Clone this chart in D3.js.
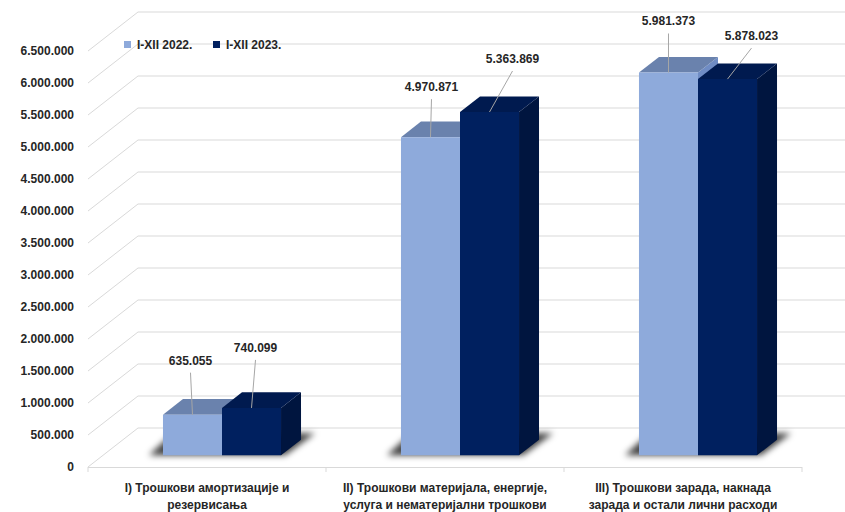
<!doctype html>
<html>
<head>
<meta charset="utf-8">
<style>
  body { margin: 0; background: #fff; }
  text { font-family: "Liberation Sans", Arial, sans-serif; font-weight: bold; fill: #262626; }
</style>
<script src="https://d3js.org/d3.v7.min.js"></script>
</head>
<body>
<svg width="845" height="512"></svg>
<script>
// data
var categories = [
  ["I) Трошкови амортизације и", "резервисања"],
  ["II) Трошкови материјала, енергије,", "услуга и нематеријални трошкови"],
  ["III) Трошкови зарада, накнада", "зарада и остали лични расходи"]
];
var seriesNames = ["I-XII 2022.", "I-XII 2023."];
var values2022 = [635055, 4970871, 5981373];
var values2023 = [740099, 5363869, 5878023];
var yTicks = d3.range(0, 6500001, 500000);

// layout (hand-placed label nudges, dx/dy from bar top centre)
var labelNudge = [
  [[-2, -50], [4, -56]],
  [[1, -46], [23, -49]],
  [[0, -47], [24, -39]]
];
var colors = [
  { front: "#8eaadb", top: "#6a82ad", side: "#6f8cc4" },
  { front: "#00205f", top: "#001a4f", side: "#00153f" }
];

var svg = d3.select("svg");
var fmt = d3.formatLocale({ decimal: ",", thousands: ".", grouping: [3], currency: ["", ""] }).format(",");

var x0 = 88, x1 = 802;
var depthX = 50, depthY = -39;   // full floor depth
var y = d3.scaleLinear().domain([0, 6500000]).range([467, 51]);
var xBand = d3.scaleBand().domain(d3.range(categories.length)).range([x0, x1]).paddingInner(0).paddingOuter(0);
var groupW = xBand.bandwidth() * 0.496;
var xSeries = d3.scaleBand().domain([0, 1]).range([0, groupW]);

function off(f) { return [depthX * f, depthY * f]; }
function pt(x, yy, f) { var o = off(f); return [x + o[0], yy + o[1]]; }
function poly(pts) { return pts.map(function(p) { return p.join(","); }).join(" "); }

var defs = svg.append("defs");
defs.append("filter").attr("id", "shadow").attr("x", "-20%").attr("y", "-50%").attr("width", "140%").attr("height", "200%")
  .append("feGaussianBlur").attr("stdDeviation", 3);

var grid = svg.append("g").attr("stroke", "#d9d9d9").attr("stroke-width", 1).attr("fill", "none");
yTicks.forEach(function(t) {
  var yy = y(t);
  var b = pt(x0, yy, 1);
  // left wall diagonal
  grid.append("line").attr("x1", x0).attr("y1", yy).attr("x2", b[0]).attr("y2", b[1]);
  // back wall line
  grid.append("line").attr("x1", b[0]).attr("y1", b[1]).attr("x2", 860).attr("y2", b[1]);
});
// floor front edge
var floorY = y(0);
svg.append("line").attr("x1", x0).attr("y1", floorY + 0.5).attr("x2", x1).attr("y2", floorY + 0.5)
  .attr("stroke", "#d9d9d9");
xBand.domain().concat([categories.length]).forEach(function(i) {
  var xx = i < categories.length ? xBand(i) : x1;
  svg.append("line").attr("x1", xx).attr("y1", floorY).attr("x2", xx).attr("y2", floorY + 5).attr("stroke", "#d9d9d9");
});

// y axis labels
svg.append("g").selectAll("text").data(yTicks).enter().append("text")
  .attr("x", 74).attr("y", function(d) { return y(d); }).attr("dy", "0.35em")
  .attr("text-anchor", "end").attr("font-size", 12)
  .text(function(d) { return fmt(d); });

// bars
var fFront = 0.3, fBack = 0.7;
var series = [values2022, values2023];
var barsG = svg.append("g");
var shadowG = barsG.append("g").attr("filter", "url(#shadow)");

categories.forEach(function(c, i) {
  var gx = xBand(i) + xBand.bandwidth() / 2 - groupW / 2;
  var left = gx + off(fFront)[0];
  var right = gx + groupW + off(fFront)[0];
  var base = y(0) + off(fFront)[1];
  // floor shadow
  shadowG.append("polygon")
    .attr("points", poly([[left - 14, base], [right + 4, base], [right + 34, base - 22], [left + 10, base - 22]]))
    .attr("fill", "#000").attr("opacity", 0.75);
});

categories.forEach(function(c, i) {
  var gx = xBand(i) + xBand.bandwidth() / 2 - groupW / 2;
  series.forEach(function(vals, s) {
    var bx = gx + xSeries(s), bw = xSeries.bandwidth();
    var yTop = y(vals[i]), yBot = y(0);
    var col = colors[s];
    var fl = pt(bx, yBot, fFront), fr = pt(bx + bw, yBot, fFront);
    var tl = pt(bx, yTop, fFront), tr = pt(bx + bw, yTop, fFront);
    var btl = pt(bx, yTop, fBack), btr = pt(bx + bw, yTop, fBack), bbr = pt(bx + bw, yBot, fBack);
    barsG.append("polygon").attr("points", poly([fr, tr, btr, bbr])).attr("fill", col.side);
    barsG.append("polygon").attr("points", poly([tl, tr, btr, btl])).attr("fill", col.top);
    barsG.append("polygon").attr("points", poly([fl, fr, tr, tl])).attr("fill", col.front);
  });
});

// data labels with leader lines
var labelsG = svg.append("g");
categories.forEach(function(c, i) {
  var gx = xBand(i) + xBand.bandwidth() / 2 - groupW / 2;
  series.forEach(function(vals, s) {
    var cx = gx + xSeries(s) + xSeries.bandwidth() / 2 + off(fFront)[0];
    var cy = y(vals[i]) + off(fFront)[1];
    var n = labelNudge[i][s];
    var lx = cx + n[0], ly = cy + n[1];
    labelsG.append("line").attr("x1", lx).attr("y1", ly + 8).attr("x2", cx).attr("y2", cy)
      .attr("stroke", "#a6a6a6").attr("stroke-width", 1);
    labelsG.append("text").attr("x", lx).attr("y", ly).attr("text-anchor", "middle")
      .attr("font-size", 12).text(fmt(vals[i]));
  });
});

// category labels
categories.forEach(function(lines, i) {
  var cx = xBand(i) + xBand.bandwidth() / 2;
  var t = svg.append("text").attr("text-anchor", "middle").attr("font-size", 12);
  lines.forEach(function(l, k) {
    t.append("tspan").attr("x", cx).attr("y", 492 + k * 17).text(l);
  });
});

// legend
var legend = svg.append("g");
var legX = [124, 213];
seriesNames.forEach(function(nm, s) {
  legend.append("rect").attr("x", legX[s]).attr("y", 41).attr("width", 7).attr("height", 7).attr("fill", colors[s].front);
  legend.append("text").attr("x", legX[s] + 13).attr("y", 45).attr("dy", "0.35em").attr("font-size", 12).text(nm);
});
</script>
</body>
</html>
